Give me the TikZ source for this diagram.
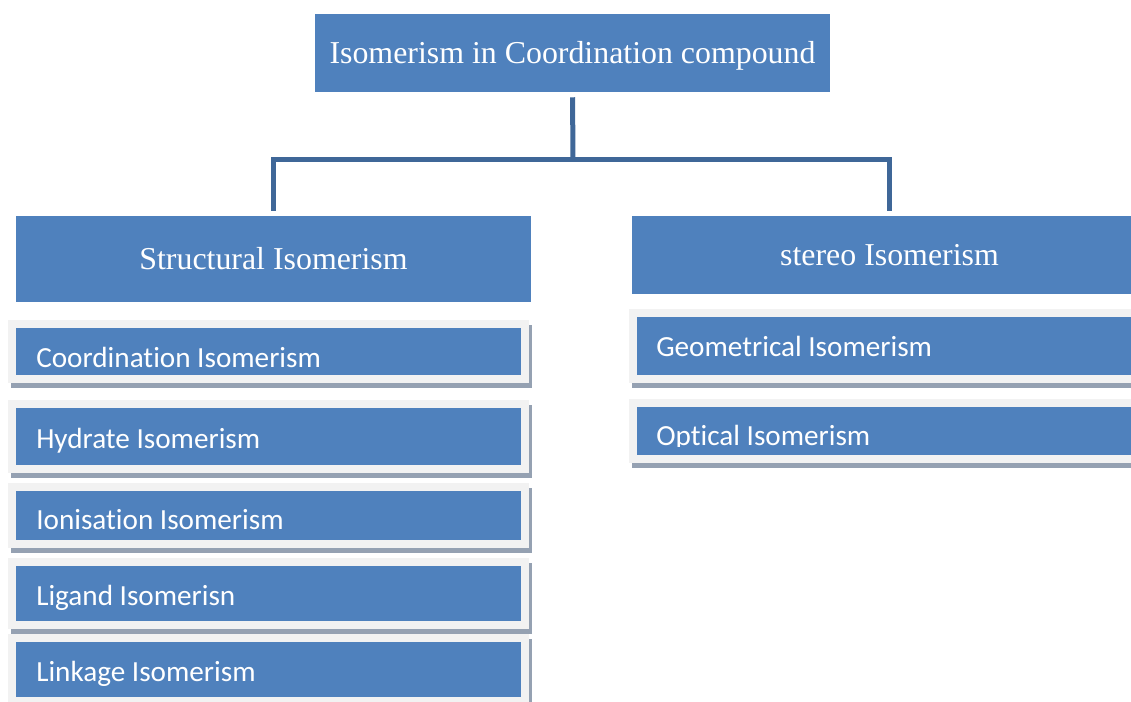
\documentclass[tikz,border=0pt]{standalone}
\usepackage{fontspec}
\setmainfont{Liberation Serif}
\newfontfamily\itemfont[Ligatures={NoCommon,NoContextual,NoRequired}]{Carlito}
\usetikzlibrary{fit}

\definecolor{boxblue}{RGB}{79,129,189}
\definecolor{framegrey}{RGB}{242,242,242}
\definecolor{shadegrey}{RGB}{149,161,178}
\definecolor{linkblue}{RGB}{63,103,152}

\tikzset{
    headbox/.style={rectangle, fill=boxblue, text=white, inner sep=0pt,
        font=\fontsize{23.9}{28}\selectfont, text height=15.8pt, text depth=0pt},
    itembox/.style={rectangle, inner sep=0pt, fill=boxblue, draw=framegrey, line width=6pt,
        preaction={draw=shadegrey, fill=shadegrey, transform canvas={shift={(3,-5)}}}},
    itemtext/.style={anchor=base west, inner sep=0pt, text=white,
        font=\itemfont\fontsize{21.9}{26}\selectfont},
    conn/.style={draw=linkblue, line width=3.75pt, line join=miter}
}

\begin{document}
\begin{tikzpicture}[x=0.75pt, y=0.75pt]
    \clip (0,0) rectangle (1131,-702);
    % headings
    \node[headbox, minimum width=386.25pt, minimum height=58.5pt] (top) at (572.5,-53) {Isomerism in Coordination compound};
    \node[headbox, minimum width=386.25pt, minimum height=64.5pt] (struct) at (273.5,-259) {Structural Isomerism};
    \node[headbox, minimum width=386.25pt, minimum height=58.5pt] (stereo) at (889.5,-255) {stereo Isomerism};
    % connectors
    \coordinate (junc) at (573,-159.5);
    \draw[conn, shorten <=3.75pt] (top.south) -- (junc);
    \draw[conn, shorten <=3.75pt, shorten >=3.75pt] (struct.north) |- (junc) -| (stereo.north);
    % structural list
    \foreach \nm/\ytop/\ybot/\ybase/\txt in {coord/324/379/367/Coordination Isomerism,
        hydrate/404/469/448/Hydrate Isomerism, ionis/487/544/529/Ionisation Isomerism,
        ligand/562/625/605/Ligand Isomerisn, linkage/638/701/681/Linkage Isomerism}
    {
        \node[itembox, fit={(12,-\ytop) (525,-\ybot)}] (\nm) {};
        \node[itemtext] (\nm-txt) at (36,-\ybase) {\txt};
    }
    % stereo list
    \node[itembox, fit={(633,-313) (1146,-379)}] (geom) {};
    \node[itemtext] (geom-txt) at (656,-356) {Geometrical Isomerism};
    \node[itembox, fit={(633,-403) (1146,-459)}] (optic) {};
    \begin{scope}
        \clip (633,-403) rectangle (1146,-446);
        \node[itemtext] (optic-txt) at (656,-445) {Optical Isomerism};
    \end{scope}
\end{tikzpicture}
\end{document}
